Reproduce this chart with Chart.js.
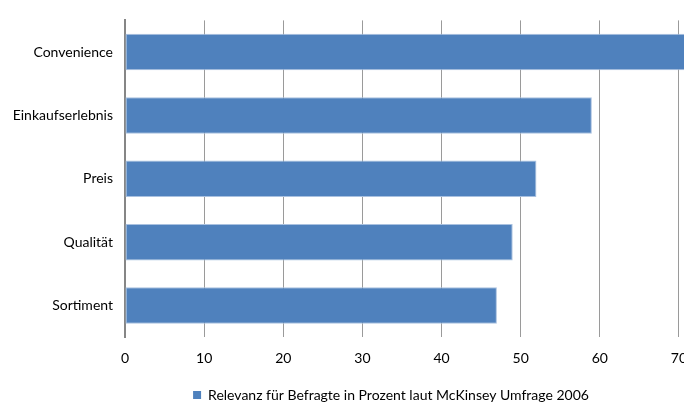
<!DOCTYPE html>
<html>
<head>
<meta charset="utf-8">
<script src="https://cdn.jsdelivr.net/npm/chart.js@4.4.1/dist/chart.umd.min.js"></script>
<style>
  html, body { margin: 0; padding: 0; background: #fff; }
  #wrap { width: 684px; height: 402px; overflow: hidden; position: relative; }
  #c { position: absolute; left: 0; top: 0; }
</style>
</head>
<body>
<div id="wrap"><canvas id="c" width="780" height="412"></canvas></div>
<script>
const categories = ["Convenience", "Einkaufserlebnis", "Preis", "Qualität", "Sortiment"];
const values = [72, 59, 52, 49, 47];
const seriesLabel = "Relevanz für Befragte in Prozent laut McKinsey Umfrage 2006";
const xMin = 0, xMax = 80, xStep = 10;

const FONT = "Lato, 'Open Sans', sans-serif";

const legendShift = {
  id: 'legendShift',
  afterLayout(chart) {
    if (chart.legend) {
      chart.legend.left += 12;
      chart.legend.right += 12;
    }
  }
};

new Chart(document.getElementById('c'), {
  type: 'bar',
  data: {
    labels: categories,
    datasets: [{
      label: seriesLabel,
      data: values,
      backgroundColor: '#4f81bd',
      borderColor: '#a9c1e0',
      borderWidth: 1,
      borderSkipped: false,
      categoryPercentage: 0.575,
      barPercentage: 1.0
    }]
  },
  options: {
    indexAxis: 'y',
    responsive: false,
    animation: false,
    layout: { padding: { top: 12, right: 22, left: 0, bottom: 0 } },
    plugins: {
      legend: {
        position: 'bottom',
        labels: {
          font: { family: FONT, size: 14 },
          color: '#000',
          boxWidth: 8,
          boxHeight: 8,
          padding: 8,
          generateLabels: (chart) => [{
            text: seriesLabel,
            fillStyle: '#4f81bd',
            strokeStyle: '#4f81bd',
            lineWidth: 0,
            datasetIndex: 0
          }]
        }
      },
      tooltip: { enabled: false }
    },
    scales: {
      x: {
        min: xMin, max: xMax,
        ticks: { stepSize: xStep, color: '#000', font: { family: FONT, size: 14 }, padding: 13 },
        grid: { color: '#9a9a9a', lineWidth: 1, drawTicks: false },
        border: { display: false }
      },
      y: {
        ticks: { color: '#000', font: { family: FONT, size: 14 }, padding: 12 },
        grid: { display: false, drawTicks: false },
        border: { display: true, color: '#868686', width: 2 },
        afterFit: (scale) => { scale.width = 125; }
      }
    }
  },
  plugins: [legendShift]
});
</script>
</body>
</html>
